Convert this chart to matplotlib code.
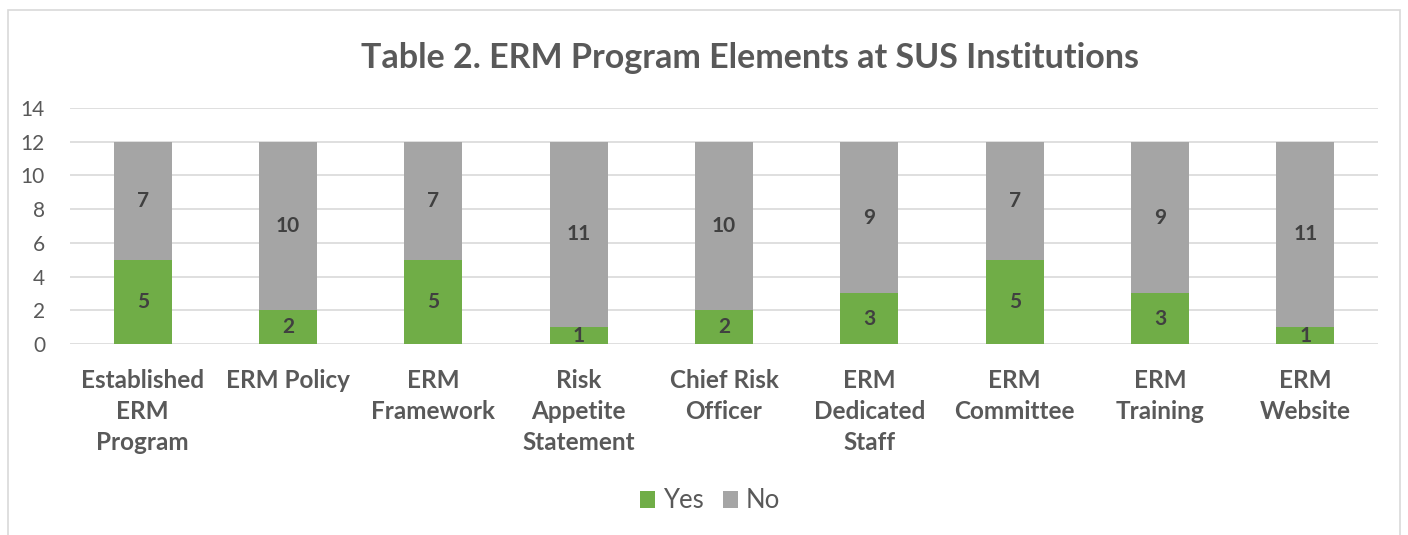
import numpy as np
import matplotlib.pyplot as plt
from matplotlib.patches import Rectangle

plt.rcParams['font.family'] = ['Lato', 'DejaVu Sans']

categorias = ['Established\nERM\nProgram', 'ERM Policy', 'ERM\nFramework',
              'Risk\nAppetite\nStatement', 'Chief Risk\nOfficer', 'ERM\nDedicated\nStaff',
              'ERM\nCommittee', 'ERM\nTraining', 'ERM\nWebsite']
sim = [5, 2, 5, 1, 2, 3, 5, 3, 1]
nao = [7, 10, 7, 11, 10, 9, 7, 9, 11]

verde = '#70AD47'
cinza = '#A5A5A5'
texto = '#595959'

fig = plt.figure(figsize=(14.08, 5.35), dpi=100)
ax = fig.add_axes([70 / 1408, 1 - 344 / 535, 1308 / 1408, 236 / 535])

# moldura do grafico
fig.patches.append(Rectangle((8 / 1408, -0.1), 1392 / 1408, 1.1 - 10 / 535,
                             transform=fig.transFigure, fill=False,
                             edgecolor='#D9D9D9', linewidth=1.2))

x = np.arange(len(categorias))
b1 = ax.bar(x, sim, width=0.4, color=verde, label='Yes', zorder=3)
b2 = ax.bar(x, nao, width=0.4, bottom=sim, color=cinza, label='No', zorder=3)

for barras in (b1, b2):
    for r in barras:
        h = r.get_height()
        ax.text(r.get_x() + r.get_width() / 2, r.get_y() + h / 2, str(int(h)),
                ha='center', va='center', fontsize=15, fontweight='bold',
                color='#404040', zorder=4)

ax.set_xlim(-0.5, len(categorias) - 0.5)
ax.set_ylim(0, 14)
ax.set_yticks(range(0, 15, 2))
ax.yaxis.grid(True, color='#D9D9D9', linewidth=1.2, zorder=0)
for s in ax.spines.values():
    s.set_visible(False)
ax.tick_params(axis='y', length=0, labelsize=15, labelcolor=texto, pad=18)
ax.tick_params(axis='x', length=0, pad=18)
ax.set_xticks(x)
ax.set_xticklabels(categorias, fontsize=17.5, fontweight='bold', color=texto,
                   linespacing=1.43)

fig.text(750 / 1408, 1 - 58 / 535, 'Table 2. ERM Program Elements at SUS Institutions',
         ha='center', va='center', fontsize=24.5, fontweight='bold', color=texto)

fig.legend(handles=[b1, b2], labels=['Yes', 'No'], loc='center',
           bbox_to_anchor=(710 / 1408, 1 - 501 / 535), ncol=2, frameon=False,
           fontsize=18.5, labelcolor=texto, handlelength=0.6, handleheight=0.6,
           handletextpad=0.3, columnspacing=0.75)

fig.savefig('out.png', dpi=100)
